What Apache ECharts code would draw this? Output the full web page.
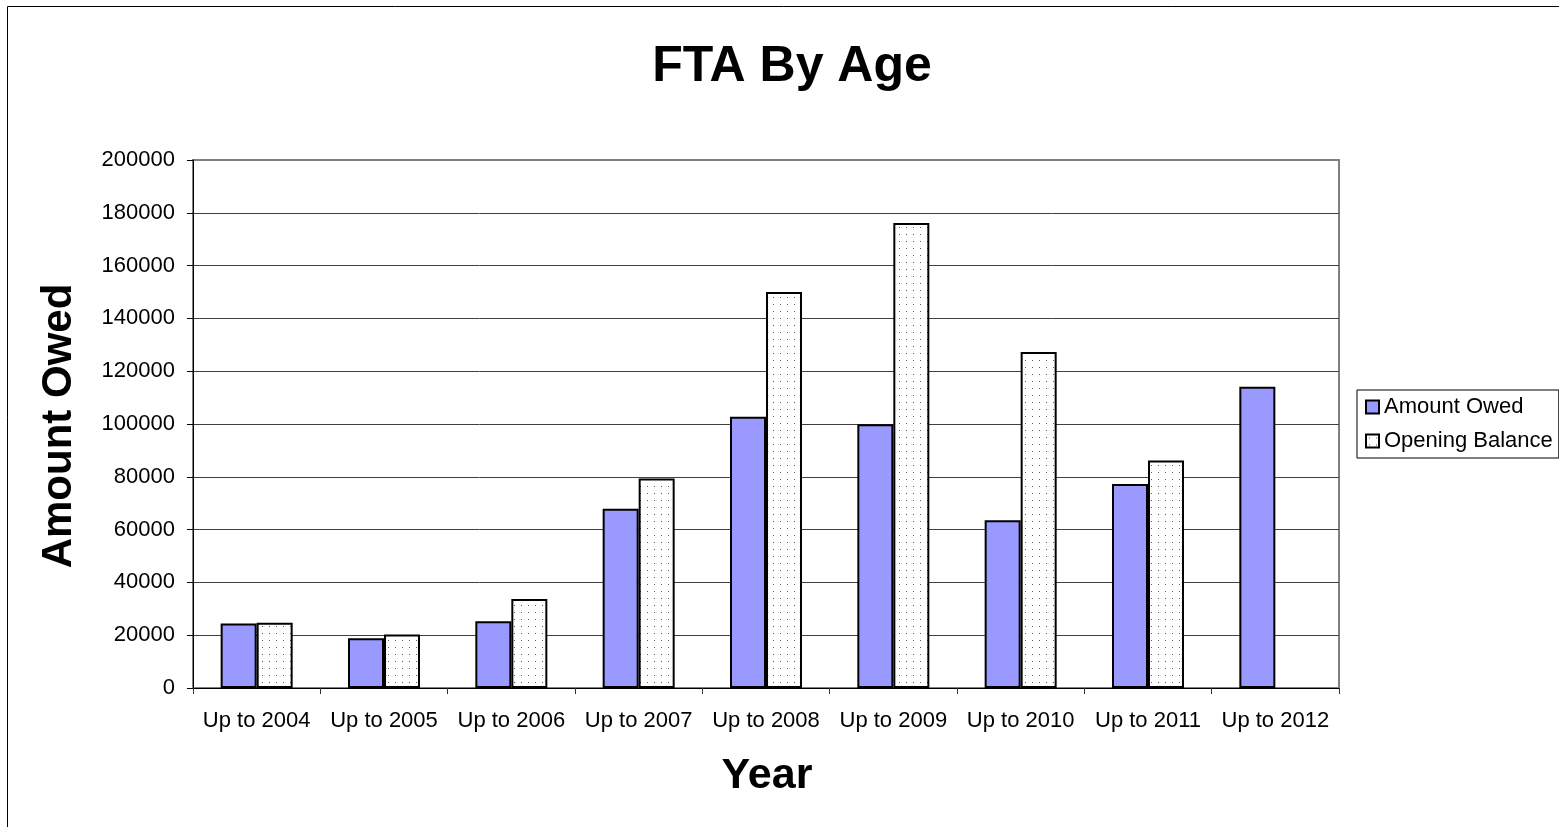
<!DOCTYPE html>
<html>
<head>
<meta charset="utf-8">
<script src="https://cdn.jsdelivr.net/npm/echarts@6/dist/echarts.min.js"></script>
<style>
  html, body { margin: 0; padding: 0; background: #fff; }
  #chart { width: 1559px; height: 827px; }
</style>
</head>
<body>
<div id="chart"></div>
<script>
// ---- data ----
const categories = ['Up to 2004', 'Up to 2005', 'Up to 2006', 'Up to 2007', 'Up to 2008', 'Up to 2009', 'Up to 2010', 'Up to 2011', 'Up to 2012'];
const amountOwed = [24400, 18800, 25300, 67900, 102700, 99900, 63500, 77300, 114100];
const openingBalance = [24700, 20300, 33700, 79400, 150000, 176100, 127300, 86200, null];
const seriesNames = ['Amount Owed', 'Opening Balance'];
const yTicks = { min: 0, max: 200000, interval: 20000 };

// ---- dotted fill pattern ----
const pat = document.createElement('canvas');
pat.width = 7; pat.height = 7;
const pc = pat.getContext('2d');
pc.fillStyle = '#ffffff';
pc.fillRect(0, 0, 7, 7);
pc.fillStyle = '#5a5a5a';
pc.fillRect(3, 3, 1, 1);

const FONT = 'Liberation Sans, Arial, sans-serif';
const chart = echarts.init(document.getElementById('chart'), null, { renderer: 'canvas' });

const nLines = Math.round((yTicks.max - yTicks.min) / yTicks.interval) + 1;
const splitColors = [];
for (let i = 0; i < nLines; i++) splitColors.push(i === nLines - 1 ? '#808080' : '#404040');

chart.setOption({
  backgroundColor: '#ffffff',
  animation: false,
  grid: {
    left: 193, top: 160, width: 1146, height: 528,
    show: true, borderColor: '#808080', borderWidth: 2, backgroundColor: 'transparent'
  },
  legend: {
    orient: 'vertical',
    left: 1357, top: 390,
    padding: [6, 6, 6, 8],
    itemGap: 12,
    itemWidth: 13, itemHeight: 13,
    borderColor: '#000', borderWidth: 1,
    icon: 'rect',
    textStyle: { fontFamily: FONT, fontSize: 22, color: '#000' },
    data: seriesNames
  },
  xAxis: {
    type: 'category',
    data: categories,
    axisLine: { lineStyle: { color: '#000', width: 1 } },
    axisTick: { show: true, length: 6, alignWithLabel: false, lineStyle: { color: '#333' } },
    axisLabel: { interval: 0, margin: 22, fontFamily: FONT, fontSize: 22, color: '#000' },
    splitLine: { show: false }
  },
  yAxis: {
    type: 'value',
    min: yTicks.min, max: yTicks.max, interval: yTicks.interval,
    axisLine: { show: true, lineStyle: { color: '#000', width: 1 } },
    axisTick: { show: true, length: 6, lineStyle: { color: '#000' } },
    axisLabel: { margin: 18, fontFamily: FONT, fontSize: 22, color: '#000', formatter: function (v) { return String(v); } },
    splitLine: { show: true, lineStyle: { color: splitColors, width: 1 } }
  },
  series: [
    {
      name: seriesNames[0],
      type: 'bar',
      data: amountOwed,
      barWidth: 36,
      barGap: '0%',
      itemStyle: { color: '#9999FF', borderColor: '#000', borderWidth: 2 }
    },
    {
      name: seriesNames[1],
      type: 'bar',
      data: openingBalance,
      barWidth: 36,
      barGap: '0%',
      itemStyle: { color: { image: pat, repeat: 'repeat' }, borderColor: '#000', borderWidth: 2 }
    }
  ],
  graphic: [
    {
      type: 'rect', silent: true, z: -1,
      shape: { x: 7.5, y: 6.5, width: 1600, height: 900 },
      style: { fill: 'none', stroke: '#000', lineWidth: 1 }
    },
    {
      type: 'text', x: 792, y: 67,
      style: { text: 'FTA By Age', fontFamily: FONT, fontWeight: 'bold', fontSize: 50, fill: '#000', align: 'center', verticalAlign: 'middle' }
    },
    {
      type: 'text', x: 59, y: 426, rotation: Math.PI / 2,
      style: { text: 'Amount Owed', fontFamily: FONT, fontWeight: 'bold', fontSize: 42, fill: '#000', align: 'center', verticalAlign: 'middle' }
    },
    {
      type: 'text', x: 767, y: 776,
      style: { text: 'Year', fontFamily: FONT, fontWeight: 'bold', fontSize: 43, fill: '#000', align: 'center', verticalAlign: 'middle' }
    }
  ]
});
</script>
</body>
</html>
